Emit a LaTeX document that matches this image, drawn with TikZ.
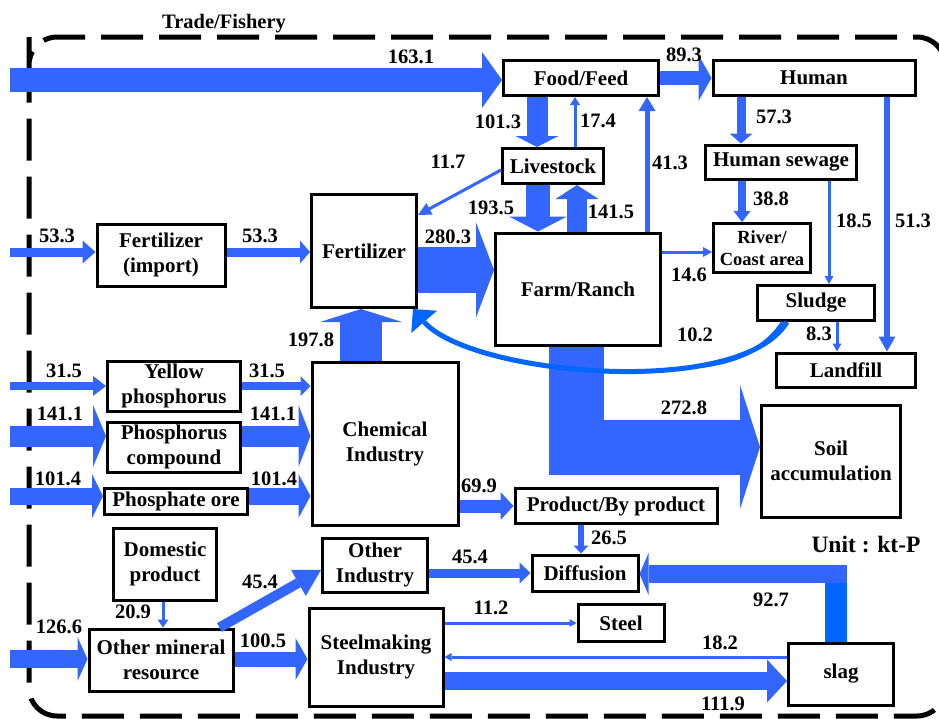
\documentclass[tikz,border=0pt]{standalone}
\usepackage{fontspec}
\setmainfont{Liberation Serif}
\usetikzlibrary{arrows.meta}
\definecolor{b1}{RGB}{51,102,255}
\definecolor{b2}{RGB}{0,102,255}
\newcommand\myfs{\fontsize{21}{25}\selectfont\bfseries}
\newcommand\mylab{\fontsize{20.5}{24}\selectfont\bfseries}
\newcommand\riverfs{\fontsize{18.5}{22}\selectfont\bfseries}
\newcommand\unitfs{\fontsize{23.5}{26}\selectfont\bfseries}
\begin{document}
\begin{tikzpicture}[x=1pt,y=-1pt,
 bx/.style 2 args={draw=black, line width=3pt, fill=white, inner sep=0pt, minimum width=#1pt, minimum height=#2pt, align=center, font=\myfs},
 lbl/.style={inner sep=0pt, font=\mylab},
 flow/.style={draw=b1, line width=#1pt},
 tip/.style 2 args={-{Triangle[length=#1pt,width=#2pt,line width=0pt]}},
 dashbox/.style={line width=5pt, dash pattern=on 42pt off 16pt, rounded corners=28pt}]
\useasboundingbox (0,0) rectangle (939,718);
\clip (0,0) rectangle (939,718);
\fill[white] (0,0) rectangle (939,718);

% trade / fishery boundary
\draw[dashbox] (29,65) -- (29,37) -- (945,37) -- (945,716) -- (29,716) -- cycle;
\node[lbl] (trade) at (224,24) {Trade/Fishery};

% boxes
\node[bx={155}{35}] (foodfeed) at (581,78) {Food/Feed};
\node[bx={202}{35}] (human) at (814,78) {Human};
\node[bx={101}{35}] (livestock) at (553,166) {Livestock};
\node[bx={151}{34}] (sewage) at (781,162) {Human sewage};
\node[bx={97}{49}, font=\riverfs] (river) at (762,248) {River/\\Coast area};
\node[bx={165}{112}] (farm) at (578,289) {Farm/Ranch};
\node[bx={105}{113}] (fert) at (364,251) {Fertilizer};
\node[bx={128}{62}] (fertimp) at (161,255) {Fertilizer\\(import)};
\node[bx={133}{50}] (yellow) at (174,386) {Yellow\\phosphorus};
\node[bx={133}{50}] (pcomp) at (174,447) {Phosphorus\\compound};
\node[bx={143}{26}] (pore) at (176,501) {Phosphate ore};
\node[bx={146}{163}] (chem) at (385,444) {Chemical\\Industry};
\node[bx={117}{35}] (sludge) at (816,303) {Sludge};
\node[bx={139}{34}] (landfill) at (846,370) {Landfill};
\node[bx={139}{112}] (soil) at (831,461) {Soil\\accumulation};
\node[bx={202}{35}] (product) at (616,506) {Product/By product};
\node[bx={103}{72}] (domestic) at (165,564) {Domestic\\product};
\node[bx={144}{62}] (mineral) at (161,660) {Other mineral\\resource};
\node[bx={105}{54}] (otherind) at (375,565) {Other\\Industry};
\node[bx={134}{98}] (steelmaking) at (376,657) {Steelmaking\\Industry};
\node[bx={106}{36}] (diffusion) at (585,573) {Diffusion};
\node[bx={86}{37}] (steel) at (621,623) {Steel};
\node[bx={105}{62}] (slag) at (841,674) {slag};

% free ends and bends
\coordinate (s163) at (10,80);
\coordinate (s53) at (10,252);
\coordinate (s31) at (10,386);
\coordinate (s141) at (10,436);
\coordinate (s101) at (10,496);
\coordinate (s126) at (10,659);
\coordinate (c272) at (576,447);
\coordinate (c92) at (836,574);
\coordinate (c182) at (790,657);
\coordinate (c111) at (500,681);
\coordinate (c280) at (450,270);

% flows
\draw[flow=24, tip={20}{56}] (s163) -- (s163 -| foodfeed.west);
\draw[flow=14, tip={13}{46}] (foodfeed.east) -- (human.west);
\draw[flow=21, tip={11}{43}] ([xshift=-44pt]foodfeed.south) -- ([xshift=-16pt]livestock.north);
\draw[flow=3, tip={8}{10}] ([xshift=22pt]livestock.north) -- ([xshift=-6pt]foodfeed.south);
\draw[flow=3, tip={13}{13}] ([yshift=-4pt]livestock.west) -- ([yshift=-22pt]fert.north east);
\draw[flow=24, tip={15}{58}] ([xshift=-15pt]livestock.south) -- ([xshift=-40pt]farm.north);
\draw[flow=20, tip={14}{43}] ([xshift=-1pt]farm.north) -- ([xshift=24pt]livestock.south);
\draw[flow=5, tip={14}{17}] ([xshift=69pt]farm.north) -- ([xshift=66pt]foodfeed.south);
\draw[flow=9, tip={10}{23}] ([xshift=-73pt]human.south) -- ([xshift=-40pt]sewage.north);
\draw[flow=8, tip={11}{17}] ([xshift=-39pt]sewage.south) -- ([xshift=-20pt]river.north);
\draw[flow=3, tip={8}{9}] ([xshift=48pt]sewage.south) -- ([xshift=13pt]sludge.north);
\draw[flow=6, tip={15}{17}] ([xshift=73pt]human.south) -- ([xshift=41pt]landfill.north);
\draw[flow=3, tip={9}{10}] ([yshift=37pt]farm.east) -- ([yshift=-4pt]river.west);
\draw[flow=3, tip={8}{9}] ([xshift=21pt]sludge.south) -- ([xshift=-9pt]landfill.north);
\draw[flow=46, tip={18}{95}] (fert.east |- c280) -- (farm.west |- c280);
\draw[flow=9, tip={13}{23}] (s53) -- (s53 -| fertimp.west);
\draw[flow=9, tip={10}{23}] (s53 -| fertimp.east) -- (s53 -| fert.west);
\draw[flow=8, tip={13}{20}] (s31) -- (s31 -| yellow.west);
\draw[flow=8, tip={10}{20}] (s31 -| yellow.east) -- (s31 -| chem.west);
\draw[flow=21, tip={13}{62}] (s141) -- (s141 -| pcomp.west);
\draw[flow=21, tip={12}{62}] (s141 -| pcomp.east) -- (s141 -| chem.west);
\draw[flow=17, tip={11}{44}] (s101) -- (s101 -| pore.west);
\draw[flow=17, tip={12}{44}] (s101 -| pore.east) -- (s101 -| chem.west);
\draw[flow=42, tip={13}{82}] ([xshift=-24pt]chem.north) -- ([xshift=-3pt]fert.south);
\draw[flow=13, tip={13}{28}] (chem.east |- product.west) -- (product.west);
\draw[flow=55, tip={20}{124}] (farm.south -| c272) -- (c272) -- (soil.west |- c272);
\draw[flow=6, tip={8}{15}] ([xshift=-35pt]product.south) -- ([xshift=-4pt]diffusion.north);
\draw[flow=9, tip={11}{21}] (otherind.east |- diffusion.west) -- (diffusion.west);
\draw[b2, line width=22pt] (slag.north -| c92) -- ([yshift=9pt]c92);
\draw[flow=18, tip={9}{42}] ([xshift=11pt]c92) -- (diffusion.east |- c92);
\draw[flow=3, tip={7}{8}] (steelmaking.east |- steel.west) -- (steel.west);
\draw[flow=3, tip={7}{8}] (slag.west |- c182) -- (steelmaking.east |- c182);
\draw[flow=18, tip={20}{43}] (steelmaking.east |- c111) -- (slag.west |- c111);
\draw[flow=10, tip={26}{30}] ([xshift=-15pt]mineral.north east) -- ([yshift=-5pt]otherind.west);
\draw[flow=3, tip={8}{11}] ([xshift=-2pt]domestic.south) -- ([xshift=2pt]mineral.north);
\draw[flow=18, tip={10}{44}] (s126) -- (s126 -| mineral.west);
\draw[flow=15, tip={12}{42}] (s126 -| mineral.east) -- (s126 -| steelmaking.west);
\draw[b2, line width=5pt, tip={17}{34}] ([xshift=-29pt]sludge.south) .. controls (740,400) and (470,375) .. ([xshift=-5pt]fert.south east);
\draw[b2, line width=4pt] ([xshift=-33pt]sludge.south) .. controls (765,350) and (735,362) .. (700,366);

% flow labels
\node[lbl] (l163) at (411,57) {163.1};
\node[lbl] (l89) at (684,55) {89.3};
\node[lbl] (l101) at (498,122) {101.3};
\node[lbl] (l17) at (598,121) {17.4};
\node[lbl] (l11) at (448,162) {11.7};
\node[lbl] (l193) at (491,208) {193.5};
\node[lbl] (l141b) at (611,212) {141.5};
\node[lbl] (l41) at (670,163) {41.3};
\node[lbl] (l57) at (774,117) {57.3};
\node[lbl] (l38) at (771,199) {38.8};
\node[lbl] (l18a) at (854,221) {18.5};
\node[lbl] (l51) at (913,221) {51.3};
\node[lbl] (l14) at (689,275) {14.6};
\node[lbl] (l280) at (448,237) {280.3};
\node[lbl] (l53a) at (57,236) {53.3};
\node[lbl] (l53b) at (260,236) {53.3};
\node[lbl] (l31a) at (64,371) {31.5};
\node[lbl] (l31b) at (267,371) {31.5};
\node[lbl] (l141a) at (60,414) {141.1};
\node[lbl] (l141c) at (273,414) {141.1};
\node[lbl] (l101a) at (58,479) {101.4};
\node[lbl] (l101b) at (274,479) {101.4};
\node[lbl] (l197) at (311,340) {197.8};
\node[lbl] (l10) at (695,335) {10.2};
\node[lbl] (l8) at (819,334) {8.3};
\node[lbl] (l272) at (684,408) {272.8};
\node[lbl] (l69) at (479,486) {69.9};
\node[lbl] (l26) at (609,538) {26.5};
\node[lbl] (l45a) at (470,557) {45.4};
\node[lbl] (l92) at (771,600) {92.7};
\node[lbl, font=\unitfs] (unit) at (866,545) {Unit : kt-P};
\node[lbl] (l11b) at (491,608) {11.2};
\node[lbl] (l18b) at (720,643) {18.2};
\node[lbl] (l111) at (723,704) {111.9};
\node[lbl] (l45b) at (260,582) {45.4};
\node[lbl] (l20) at (133,612) {20.9};
\node[lbl] (l126) at (59,627) {126.6};
\node[lbl] (l100) at (263,641) {100.5};
\end{tikzpicture}
\end{document}
